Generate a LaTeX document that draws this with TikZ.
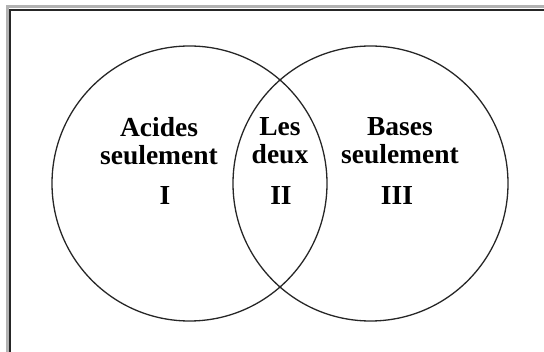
\documentclass[tikz,border=0pt]{standalone}
\usepackage{fontspec}
\setmainfont{Liberation Serif}
\begin{document}
\begin{tikzpicture}[x=1pt,y=-1pt,
  ring/.style={draw=black!85,line width=1.3pt},
  lbl/.style={font=\bfseries\fontsize{27.5}{28}\selectfont,align=center,inner sep=0pt,anchor=north},
  num/.style={font=\bfseries\fontsize{27.5}{28}\selectfont,inner sep=0pt,anchor=base}]
\useasboundingbox (0,0) rectangle (544,352);
% frame (shadow and line)
\draw[black!30,line width=3pt] (7,352) -- (7,7) -- (544,7);
\draw[black!85,line width=1.8pt] (10,352) -- (10,10) -- (544,10);
% circles
\node[ring,circle,minimum size=275pt,inner sep=0pt] (A) at (189.5,183.5) {};
\node[ring,circle,minimum size=275pt,inner sep=0pt] (B) at (370.5,183.5) {};
% labels
\node[lbl] (tA) at (159,117) {Acides\\seulement};
\node[lbl] (tM) at (280,117) {Les\\deux};
\node[lbl] (tB) at (400,117) {Bases\\seulement};
\node[num] (nI) at (165,205) {I};
\node[num] (nII) at (281,205) {II};
\node[num] (nIII) at (397,205) {III};
\end{tikzpicture}
\end{document}
